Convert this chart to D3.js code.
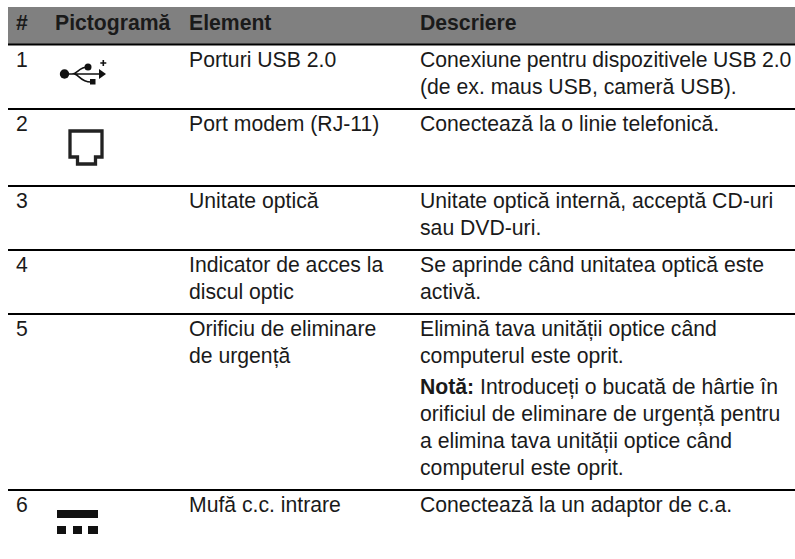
<!DOCTYPE html>
<html>
<head>
<meta charset="utf-8">
<script src="https://cdn.jsdelivr.net/npm/d3@7"></script>
<style>
  html, body { margin: 0; padding: 0; background: #fff; }
  text { font-family: "Liberation Sans", Arial, sans-serif; font-size: 21.2px; fill: #1a1a1a; }
</style>
</head>
<body>
<div id="chart"></div>
<script>
var headers = ['#', 'Pictogramă', 'Element', 'Descriere'];
var rowNumbers = ['1', '2', '3', '4', '5', '6'];
var elements = [
    ['Porturi USB 2.0'],
    ['Port modem (RJ-11)'],
    ['Unitate optică'],
    ['Indicator de acces la', 'discul optic'],
    ['Orificiu de eliminare', 'de urgență'],
    ['Mufă c.c. intrare']
];
var descriptions = [
    ['Conexiune pentru dispozitivele USB 2.0', '(de ex. maus USB, cameră USB).'],
    ['Conectează la o linie telefonică.'],
    ['Unitate optică internă, acceptă CD-uri', 'sau DVD-uri.'],
    ['Se aprinde când unitatea optică este', 'activă.'],
    ['Elimină tava unității optice când', 'computerul este oprit.'],
    ['Conectează la un adaptor de c.a.']
];
var noteLines = ['Introduceți o bucată de hârtie în', 'orificiul de eliminare de urgență pentru', 'a elimina tava unității optice când', 'computerul este oprit.'];
var rowBottoms = [109, 186, 250, 314, 490];

var width = 795, height = 559;
var svg = d3.select('#chart').append('svg').attr('width', width).attr('height', height).style('display', 'block');

var colX = [16, 55, 189, 420];
var lineHeight = 27;

svg.append('rect').attr('x', 8).attr('y', 7).attr('width', width - 8).attr('height', 37).attr('fill', '#808080');
svg.append('line').attr('x1', 8).attr('x2', width).attr('y1', 44.5).attr('y2', 44.5).attr('stroke', '#000').attr('stroke-width', 2);

svg.selectAll('text.head').data(headers).enter().append('text')
   .attr('class', 'head')
   .attr('x', function(d, i) { return colX[i]; })
   .attr('y', 30)
   .style('font-weight', 'bold')
   .text(function(d) { return d; });

var rowTops = [45].concat(rowBottoms);

svg.selectAll('line.rule').data(rowBottoms).enter().append('line')
   .attr('class', 'rule')
   .attr('x1', 8).attr('x2', width)
   .attr('y1', function(d) { return d; }).attr('y2', function(d) { return d; })
   .attr('stroke', '#000').attr('stroke-width', 2);

function addLines(g, lines, x, y0) {
    g.selectAll(null).data(lines).enter().append('text')
     .attr('x', x)
     .attr('y', function(d, i) { return y0 + i * lineHeight; })
     .text(function(d) { return d; });
}

rowNumbers.forEach(function(n, i) {
    var g = svg.append('g');
    var y0 = rowTops[i] + 22;
    g.append('text').attr('x', colX[0]).attr('y', y0).text(n);
    addLines(g, elements[i], colX[2], y0);
    addLines(g, descriptions[i], colX[3], y0);
    // first description line is set a bit tight in the original
    if (i === 0) g.select('text:nth-of-type(3)').style('word-spacing', '-0.5px');
});

// note under row 5
var noteY = rowTops[4] + 22 + 2 * lineHeight + 4;
var note = svg.append('g');
var noteFirst = note.append('text').attr('x', colX[3]).attr('y', noteY);
noteFirst.append('tspan').style('font-weight', 'bold').text('Notă: ');
noteFirst.append('tspan').text(noteLines[0]);
addLines(note, noteLines.slice(1), colX[3], noteY + lineHeight);

// icons
var usb = svg.append('g').attr('transform', 'translate(60,60)');
usb.append('circle').attr('cx', 4.500).attr('cy', 14).attr('r', 4.700).attr('fill', '#111');
usb.append('path').attr('d', 'M5 14H41M12 14C17 14 19 7 28 7M14 14C19 14 20 22 31 22').attr('fill', 'none').attr('stroke', '#111').attr('stroke-width', 1.6);
usb.append('circle').attr('cx', 28).attr('cy', 7).attr('r', 3.500).attr('fill', '#111');
usb.append('rect').attr('x', 30).attr('y', 19).attr('width', 5.500).attr('height', 5.500).attr('fill', '#111');
usb.append('path').attr('d', 'M39 9L46 14L39 19Z').attr('fill', '#111');
usb.append('path').attr('d', 'M43.300 0V6M40.300 3H46.300').attr('stroke', '#111').attr('stroke-width', 1.6);

svg.append('path')
   .attr('d', 'M70 131H102V157H95.500V164H77.500V157H70Z')
   .attr('fill', 'none').attr('stroke', '#222').attr('stroke-width', 3.3);

var dc = svg.append('g').attr('transform', 'translate(57,510)');
dc.append('rect').attr('width', 41).attr('height', 8).attr('fill', '#111');
[[0, 9], [16, 9], [31, 10]].forEach(function(b) {
    dc.append('rect').attr('x', b[0]).attr('y', 16).attr('width', b[1]).attr('height', 8).attr('fill', '#111');
});
</script>
</body>
</html>
